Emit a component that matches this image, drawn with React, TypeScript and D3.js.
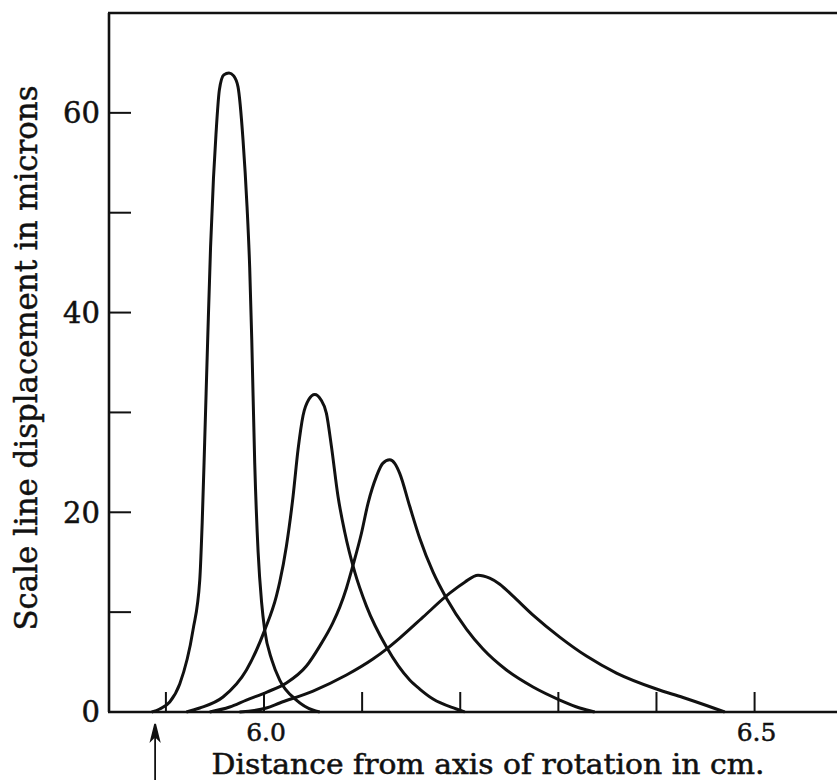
import React from 'react';
import * as d3 from 'd3';

// Sedimentation boundary curves (scale line displacement vs. radius)
const curve1: [number, number][] = [
  [5.8855, 0], [5.8937, 0.3], [5.9039, 1.0], [5.9141, 2.8], [5.9276, 8.2],
  [5.9345, 13.2], [5.937, 19], [5.9395, 27], [5.9425, 37], [5.9455, 46.5],
  [5.9485, 53.5], [5.951, 57.8], [5.9545, 62.3], [5.959, 63.8], [5.9643, 64.0],
  [5.9691, 63.7], [5.9735, 62.6], [5.9786, 57.3], [5.9827, 50.6], [5.9854, 44.5],
  [5.9875, 37.3], [5.9905, 25], [5.994, 16], [5.9975, 11], [6.0007, 8.2],
  [6.008, 5.2], [6.016, 3.2], [6.033, 1.2], [6.0496, 0.2], [6.0568, 0],
];

const curve2: [number, number][] = [
  [5.9209, 0], [5.9345, 0.4], [5.9582, 1.5], [5.9821, 4.2], [6.0007, 8.2],
  [6.0126, 11.6], [6.016, 13.0], [6.0228, 16.6], [6.0296, 21.6], [6.0347, 26.3],
  [6.0398, 29.7], [6.0456, 31.3], [6.0517, 31.8], [6.0578, 31.3], [6.0636, 29.9],
  [6.0687, 26.6], [6.0754, 21.6], [6.0823, 18.0], [6.0925, 14.0], [6.1044, 10.6],
  [6.1248, 6.5], [6.1485, 3.2], [6.1587, 2.3], [6.1723, 1.3], [6.1961, 0.3],
  [6.2046, 0],
];

const curve3: [number, number][] = [
  [5.9446, 0], [5.965, 0.5], [5.982, 1.2], [6.003, 2.0], [6.0228, 2.9],
  [6.0432, 4.6], [6.0568, 6.6], [6.07, 8.9], [6.0772, 10.5], [6.084, 12.4],
  [6.0907, 14.7], [6.0993, 17.9], [6.106, 20.9], [6.1146, 23.6], [6.121, 24.9],
  [6.1281, 25.25], [6.1332, 24.9], [6.1383, 23.9], [6.1485, 20.6], [6.1587, 17.4],
  [6.1723, 14.0], [6.1859, 11.4], [6.2063, 8.3], [6.2232, 6.3], [6.2471, 4.2],
  [6.2742, 2.5], [6.3014, 1.2], [6.3218, 0.4], [6.337, 0],
];

const curve4: [number, number][] = [
  [5.975, 0], [6.0024, 0.4], [6.016, 0.9], [6.05, 2.1], [6.084, 3.7],
  [6.111, 5.3], [6.1248, 6.3], [6.1383, 7.4], [6.162, 9.5], [6.1893, 11.9],
  [6.2046, 13.0], [6.2181, 13.7], [6.23, 13.4], [6.2403, 12.8], [6.2538, 11.6],
  [6.2742, 9.7], [6.3014, 7.5], [6.3286, 5.6], [6.3592, 3.9], [6.4, 2.3],
  [6.4271, 1.45], [6.451, 0.65], [6.4696, 0],
];

const curves = [curve1, curve2, curve3, curve4];

const xTicks = [5.9, 6.0, 6.1, 6.2, 6.3, 6.4, 6.5];
const xTickLabels = [6.0, 6.5];
const yTicks = [10, 20, 30, 40, 50, 60];
const yTickLabels = [0, 20, 40, 60];
const meniscus = 5.889;

const W = 837;
const H = 780;
const FONT = '"DejaVu Serif", "Liberation Serif", serif';

export default function App() {
  const x = d3.scaleLinear().domain([5.842, 6.584]).range([109, 837]);
  const y = d3.scaleLinear().domain([0, 70]).range([712, 13]);

  const line = d3
    .line<[number, number]>()
    .x(d => x(d[0]))
    .y(d => y(d[1]))
    .curve(d3.curveMonotoneX);

  const [x0, x1] = x.range();
  const mx = x(meniscus);

  return (
    <div style={{ position: 'absolute', left: 0, top: 0 }}>
      <svg width={W} height={H} style={{ display: 'block', background: '#fff' }}>
        {/* frame: left axis, bottom axis, top line */}
        <g stroke="#111" strokeWidth={2.6} fill="none">
          <line x1={x0} x2={x0} y1={y(70)} y2={y(0)} />
          <line x1={x0 - 1} x2={x1} y1={y(0)} y2={y(0)} />
          <line x1={x0 - 1} x2={x1} y1={y(70)} y2={y(70)} />
        </g>

        {/* inward ticks */}
        <g stroke="#111" strokeWidth={2}>
          {yTicks.map(t => (
            <line key={'yt' + t} x1={x0} x2={x0 + 22} y1={y(t)} y2={y(t)} />
          ))}
          {xTicks.map(t => (
            <line key={'xt' + t} x1={x(t)} x2={x(t)} y1={y(0)} y2={y(0) - 20} />
          ))}
        </g>

        {/* tick labels */}
        <g fill="#111" stroke="#111" strokeWidth={0.5} fontFamily={FONT}>
          {yTickLabels.map(t => (
            <text key={'yl' + t} x={100} y={y(t)} dy="0.36em" textAnchor="end" fontSize={29}>
              {t}
            </text>
          ))}
          {xTickLabels.map(t => (
            <text key={'xl' + t} x={x(t) + 2} y={741} textAnchor="middle" fontSize={25}>
              {t.toFixed(1)}
            </text>
          ))}
        </g>

        {/* curves */}
        <g fill="none" stroke="#111" strokeWidth={3} strokeLinejoin="round">
          {curves.map((c, i) => (
            <path key={i} d={line(c) || ''} />
          ))}
        </g>

        {/* meniscus arrow */}
        <g stroke="#111" strokeWidth={1.8} fill="#111">
          <line x1={mx} x2={mx} y1={728} y2={780} />
          <path d={`M${mx},724 L${mx - 4},740 L${mx},736 L${mx + 4},740 Z`} />
        </g>

        {/* axis titles */}
        <text
          x={488}
          y={774}
          textAnchor="middle"
          fontFamily={FONT}
          fontSize={27}
          fill="#111"
          stroke="#111"
          strokeWidth={0.5}
          textLength={553}
          lengthAdjust="spacingAndGlyphs"
        >
          Distance from axis of rotation in cm.
        </text>
        <text
          transform="translate(37,358) rotate(-90)"
          textAnchor="middle"
          fontFamily={FONT}
          fontSize={31}
          fill="#111"
          stroke="#111"
          strokeWidth={0.5}
          textLength={545}
          lengthAdjust="spacingAndGlyphs"
        >
          Scale line displacement in microns
        </text>
      </svg>
    </div>
  );
}
